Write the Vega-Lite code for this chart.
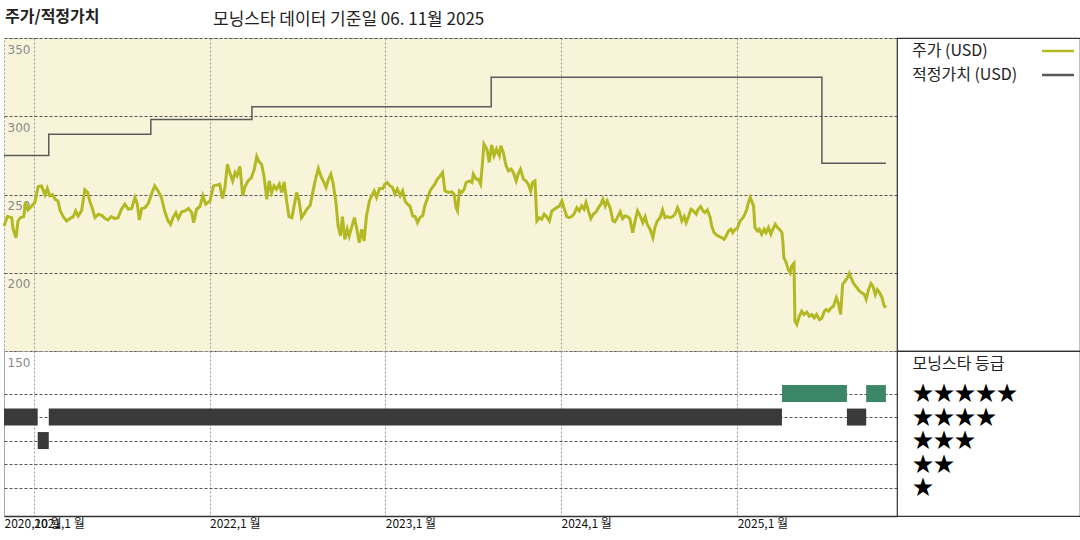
{
"$schema": "https://vega.github.io/schema/vega-lite/v6.json",
"padding": {"left": -3, "top": 8, "right": 0, "bottom": 0},
"background": "white",
"config": {"font": "Noto Sans CJK KR", "concat": {"spacing": 0}},
"columns": 2,
"spacing": 0,
"bounds": "flush",
"resolve": {"scale": {"x": "independent", "y": "independent", "color": "independent", "fill": "independent"}},
"datasets": {
"price": [
{"d":"2020-10-31","p":229.9},{"d":"2020-11-07","p":235.9},{"d":"2020-11-16","p":235.2},{"d":"2020-11-19","p":227.8},{"d":"2020-11-25","p":222.4},{"d":"2020-11-29","p":233.1},{"d":"2020-12-04","p":235.2},{"d":"2020-12-11","p":235.9},{"d":"2020-12-15","p":244.9},{"d":"2020-12-20","p":240.2},{"d":"2020-12-27","p":242.3},
{"d":"2021-01-03","p":244.9},{"d":"2021-01-10","p":255.1},{"d":"2021-01-17","p":255.5},{"d":"2021-01-24","p":249.8},{"d":"2021-01-29","p":253.8},{"d":"2021-02-03","p":249.2},{"d":"2021-02-09","p":249.8},{"d":"2021-02-14","p":247.0},{"d":"2021-02-20","p":245.9},{"d":"2021-02-25","p":239.5},{"d":"2021-03-03","p":235.9},{"d":"2021-03-10","p":233.1},{"d":"2021-03-17","p":234.6},{"d":"2021-03-24","p":235.9},{"d":"2021-03-29","p":239.5},{"d":"2021-04-03","p":236.3},{"d":"2021-04-10","p":239.5},{"d":"2021-04-17","p":253.0},{"d":"2021-04-23","p":251.3},{"d":"2021-04-27","p":245.9},{"d":"2021-05-03","p":240.6},{"d":"2021-05-08","p":235.2},{"d":"2021-05-15","p":237.4},{"d":"2021-05-22","p":236.7},{"d":"2021-05-29","p":234.6},{"d":"2021-06-04","p":233.7},{"d":"2021-06-11","p":235.9},{"d":"2021-06-18","p":234.6},{"d":"2021-06-25","p":235.2},{"d":"2021-07-02","p":240.6},{"d":"2021-07-09","p":243.8},{"d":"2021-07-16","p":240.6},{"d":"2021-07-23","p":241.0},{"d":"2021-07-30","p":248.1},{"d":"2021-08-04","p":243.8},{"d":"2021-08-08","p":233.7},{"d":"2021-08-13","p":241.0},{"d":"2021-08-20","p":241.6},{"d":"2021-08-27","p":244.4},{"d":"2021-09-03","p":250.8},{"d":"2021-09-09","p":255.5},{"d":"2021-09-16","p":252.3},{"d":"2021-09-23","p":248.1},{"d":"2021-09-30","p":238.9},{"d":"2021-10-07","p":233.1},{"d":"2021-10-12","p":231.0},{"d":"2021-10-17","p":235.2},{"d":"2021-10-23","p":238.4},{"d":"2021-10-28","p":234.6},{"d":"2021-11-04","p":238.9},{"d":"2021-11-11","p":239.5},{"d":"2021-11-18","p":241.0},{"d":"2021-11-25","p":238.4},{"d":"2021-11-29","p":232.0},{"d":"2021-12-05","p":240.6},{"d":"2021-12-12","p":242.3},{"d":"2021-12-18","p":249.2},{"d":"2021-12-24","p":243.8},
{"d":"2022-01-02","p":245.9},{"d":"2022-01-09","p":255.5},{"d":"2022-01-16","p":256.0},{"d":"2022-01-22","p":256.6},{"d":"2022-01-28","p":247.5},{"d":"2022-02-02","p":254.5},{"d":"2022-02-07","p":269.4},{"d":"2022-02-12","p":264.1},{"d":"2022-02-18","p":258.7},{"d":"2022-02-23","p":264.1},{"d":"2022-02-27","p":262.0},{"d":"2022-03-05","p":267.9},{"d":"2022-03-11","p":249.1},{"d":"2022-03-15","p":254.5},{"d":"2022-03-22","p":258.7},{"d":"2022-03-29","p":260.9},{"d":"2022-04-04","p":266.2},{"d":"2022-04-09","p":274.3},{"d":"2022-04-14","p":270.9},{"d":"2022-04-19","p":269.4},{"d":"2022-04-24","p":261.9},{"d":"2022-04-30","p":247.0},{"d":"2022-05-05","p":258.7},{"d":"2022-05-10","p":251.3},{"d":"2022-05-15","p":255.5},{"d":"2022-05-20","p":253.4},{"d":"2022-05-26","p":256.6},{"d":"2022-05-31","p":251.3},{"d":"2022-06-05","p":258.1},{"d":"2022-06-10","p":245.9},{"d":"2022-06-15","p":235.9},{"d":"2022-06-21","p":235.2},{"d":"2022-06-25","p":241.6},{"d":"2022-07-01","p":251.3},{"d":"2022-07-06","p":245.9},{"d":"2022-07-11","p":235.2},{"d":"2022-07-16","p":237.4},{"d":"2022-07-22","p":240.6},{"d":"2022-07-29","p":243.1},{"d":"2022-08-04","p":252.3},{"d":"2022-08-10","p":260.9},{"d":"2022-08-15","p":266.6},{"d":"2022-08-20","p":261.9},{"d":"2022-08-25","p":258.7},{"d":"2022-08-31","p":254.5},{"d":"2022-09-05","p":259.8},{"d":"2022-09-10","p":263.0},{"d":"2022-09-15","p":256.6},{"d":"2022-09-21","p":243.8},{"d":"2022-09-25","p":229.9},{"d":"2022-09-30","p":223.5},{"d":"2022-10-04","p":235.9},{"d":"2022-10-09","p":221.3},{"d":"2022-10-14","p":227.8},{"d":"2022-10-18","p":223.5},{"d":"2022-10-23","p":228.8},{"d":"2022-10-29","p":235.2},{"d":"2022-11-03","p":227.8},{"d":"2022-11-08","p":219.2},{"d":"2022-11-13","p":227.8},{"d":"2022-11-18","p":220.3},{"d":"2022-11-23","p":236.3},{"d":"2022-11-29","p":245.9},{"d":"2022-12-04","p":249.1},{"d":"2022-12-09","p":252.3},{"d":"2022-12-14","p":248.1},{"d":"2022-12-20","p":253.8},{"d":"2022-12-27","p":253.8},{"d":"2022-12-31","p":256.6},
{"d":"2023-01-05","p":257.7},{"d":"2023-01-11","p":255.5},{"d":"2023-01-16","p":254.5},{"d":"2023-01-21","p":250.2},{"d":"2023-01-26","p":253.4},{"d":"2023-02-01","p":249.1},{"d":"2023-02-06","p":252.3},{"d":"2023-02-11","p":245.9},{"d":"2023-02-16","p":243.8},{"d":"2023-02-21","p":242.7},{"d":"2023-02-27","p":236.3},{"d":"2023-03-04","p":235.9},{"d":"2023-03-09","p":232.0},{"d":"2023-03-14","p":235.2},{"d":"2023-03-20","p":236.7},{"d":"2023-03-24","p":242.7},{"d":"2023-03-29","p":247.0},{"d":"2023-04-04","p":252.3},{"d":"2023-04-09","p":254.5},{"d":"2023-04-14","p":256.6},{"d":"2023-04-19","p":259.8},{"d":"2023-04-25","p":261.9},{"d":"2023-04-30","p":264.1},{"d":"2023-05-05","p":252.3},{"d":"2023-05-12","p":251.3},{"d":"2023-05-19","p":251.7},{"d":"2023-05-24","p":250.2},{"d":"2023-05-28","p":241.6},{"d":"2023-05-31","p":239.5},{"d":"2023-06-04","p":252.3},{"d":"2023-06-09","p":251.3},{"d":"2023-06-14","p":253.4},{"d":"2023-06-18","p":257.7},{"d":"2023-06-25","p":258.7},{"d":"2023-06-30","p":257.7},{"d":"2023-07-03","p":263.0},{"d":"2023-07-09","p":259.8},{"d":"2023-07-13","p":259.8},{"d":"2023-07-18","p":256.6},{"d":"2023-07-22","p":270.5},{"d":"2023-07-25","p":282.2},{"d":"2023-07-31","p":279.0},{"d":"2023-08-05","p":270.5},{"d":"2023-08-10","p":281.6},{"d":"2023-08-15","p":274.8},{"d":"2023-08-20","p":279.0},{"d":"2023-08-26","p":274.8},{"d":"2023-08-29","p":281.2},{"d":"2023-09-03","p":276.9},{"d":"2023-09-09","p":268.4},{"d":"2023-09-14","p":265.1},{"d":"2023-09-19","p":266.2},{"d":"2023-09-24","p":264.1},{"d":"2023-09-30","p":258.7},{"d":"2023-10-04","p":263.0},{"d":"2023-10-09","p":266.2},{"d":"2023-10-15","p":259.8},{"d":"2023-10-20","p":258.7},{"d":"2023-10-25","p":256.6},{"d":"2023-10-30","p":252.3},{"d":"2023-11-03","p":257.7},{"d":"2023-11-08","p":258.7},{"d":"2023-11-12","p":233.1},{"d":"2023-11-17","p":235.2},{"d":"2023-11-22","p":234.2},{"d":"2023-11-27","p":237.4},{"d":"2023-12-02","p":235.9},{"d":"2023-12-08","p":233.1},{"d":"2023-12-13","p":239.5},{"d":"2023-12-18","p":240.6},{"d":"2023-12-23","p":241.6},{"d":"2023-12-29","p":242.7},
{"d":"2024-01-03","p":245.9},{"d":"2024-01-07","p":241.6},{"d":"2024-01-13","p":235.9},{"d":"2024-01-18","p":235.2},{"d":"2024-01-23","p":235.9},{"d":"2024-01-28","p":237.4},{"d":"2024-02-03","p":241.6},{"d":"2024-02-08","p":239.5},{"d":"2024-02-13","p":242.7},{"d":"2024-02-18","p":240.6},{"d":"2024-02-22","p":244.9},{"d":"2024-02-27","p":239.5},{"d":"2024-03-03","p":234.6},{"d":"2024-03-08","p":237.4},{"d":"2024-03-14","p":238.9},{"d":"2024-03-19","p":241.6},{"d":"2024-03-24","p":243.8},{"d":"2024-03-28","p":247.0},{"d":"2024-04-02","p":242.7},{"d":"2024-04-06","p":245.9},{"d":"2024-04-12","p":241.6},{"d":"2024-04-18","p":233.1},{"d":"2024-04-22","p":232.5},{"d":"2024-04-27","p":235.2},{"d":"2024-05-03","p":238.9},{"d":"2024-05-08","p":234.6},{"d":"2024-05-13","p":236.3},{"d":"2024-05-18","p":235.9},{"d":"2024-05-23","p":234.6},{"d":"2024-05-29","p":225.6},{"d":"2024-06-03","p":233.1},{"d":"2024-06-08","p":239.5},{"d":"2024-06-13","p":236.7},{"d":"2024-06-19","p":232.0},{"d":"2024-06-24","p":235.9},{"d":"2024-06-28","p":231.0},{"d":"2024-07-04","p":227.8},{"d":"2024-07-10","p":222.4},{"d":"2024-07-14","p":228.8},{"d":"2024-07-19","p":233.1},{"d":"2024-07-25","p":235.2},{"d":"2024-07-30","p":240.2},{"d":"2024-08-04","p":235.2},{"d":"2024-08-09","p":235.9},{"d":"2024-08-15","p":235.2},{"d":"2024-08-20","p":235.9},{"d":"2024-08-25","p":237.4},{"d":"2024-08-30","p":241.6},{"d":"2024-09-03","p":238.9},{"d":"2024-09-08","p":233.1},{"d":"2024-09-13","p":235.9},{"d":"2024-09-17","p":232.0},{"d":"2024-09-22","p":235.9},{"d":"2024-09-27","p":240.6},{"d":"2024-10-02","p":239.5},{"d":"2024-10-08","p":237.4},{"d":"2024-10-12","p":240.6},{"d":"2024-10-17","p":242.3},{"d":"2024-10-22","p":239.5},{"d":"2024-10-26","p":238.4},{"d":"2024-10-31","p":240.2},{"d":"2024-11-06","p":235.2},{"d":"2024-11-09","p":229.9},{"d":"2024-11-14","p":225.6},{"d":"2024-11-20","p":223.9},{"d":"2024-11-25","p":223.1},{"d":"2024-11-30","p":222.4},{"d":"2024-12-05","p":221.3},{"d":"2024-12-09","p":223.5},{"d":"2024-12-14","p":226.7},{"d":"2024-12-19","p":227.8},{"d":"2024-12-23","p":225.6},{"d":"2024-12-28","p":227.8},
{"d":"2025-01-01","p":228.2},{"d":"2025-01-07","p":233.1},{"d":"2025-01-13","p":235.2},{"d":"2025-01-17","p":237.4},{"d":"2025-01-21","p":240.6},{"d":"2025-01-24","p":244.4},{"d":"2025-01-28","p":248.1},{"d":"2025-01-31","p":245.9},{"d":"2025-02-04","p":242.7},{"d":"2025-02-07","p":228.8},{"d":"2025-02-12","p":226.7},{"d":"2025-02-16","p":227.8},{"d":"2025-02-21","p":224.6},{"d":"2025-02-26","p":227.8},{"d":"2025-03-02","p":225.6},{"d":"2025-03-07","p":228.8},{"d":"2025-03-12","p":224.6},{"d":"2025-03-16","p":227.8},{"d":"2025-03-21","p":231.0},{"d":"2025-03-26","p":228.8},{"d":"2025-03-30","p":227.8},{"d":"2025-04-04","p":225.6},{"d":"2025-04-06","p":219.2},{"d":"2025-04-08","p":209.6},{"d":"2025-04-13","p":206.4},{"d":"2025-04-17","p":202.1},{"d":"2025-04-21","p":199.9},{"d":"2025-04-24","p":204.2},{"d":"2025-04-29","p":206.0},{"d":"2025-05-01","p":169.0},{"d":"2025-05-05","p":166.9},{"d":"2025-05-10","p":172.2},{"d":"2025-05-15","p":175.4},{"d":"2025-05-20","p":173.3},{"d":"2025-05-26","p":174.8},{"d":"2025-05-31","p":172.2},{"d":"2025-06-05","p":173.3},{"d":"2025-06-10","p":171.1},{"d":"2025-06-15","p":173.3},{"d":"2025-06-21","p":170.1},{"d":"2025-06-26","p":171.1},{"d":"2025-07-01","p":175.4},{"d":"2025-07-05","p":176.5},{"d":"2025-07-10","p":175.4},{"d":"2025-07-15","p":177.6},{"d":"2025-07-20","p":178.6},{"d":"2025-07-26","p":184.0},{"d":"2025-07-30","p":180.7},{"d":"2025-08-04","p":173.3},{"d":"2025-08-08","p":192.5},{"d":"2025-08-13","p":194.6},{"d":"2025-08-18","p":196.8},{"d":"2025-08-22","p":199.6},{"d":"2025-08-27","p":195.7},{"d":"2025-09-01","p":192.5},{"d":"2025-09-07","p":190.4},{"d":"2025-09-12","p":188.2},{"d":"2025-09-17","p":187.2},{"d":"2025-09-22","p":186.1},{"d":"2025-09-26","p":182.9},{"d":"2025-10-01","p":189.3},{"d":"2025-10-06","p":193.1},{"d":"2025-10-10","p":191.4},{"d":"2025-10-15","p":186.1},{"d":"2025-10-19","p":189.3},{"d":"2025-10-24","p":187.2},{"d":"2025-10-29","p":184.0},{"d":"2025-11-02","p":179.0},{"d":"2025-11-06","p":177.6}
],
"fv": [
{"d":"2020-10-31","v":275},{"d":"2021-02-01","v":288.5},{"d":"2021-09-01","v":298},{"d":"2022-03-30","v":306},{"d":"2023-08-09","v":325},{"d":"2025-06-26","v":270},{"d":"2025-11-06","v":270}
],
"rating": [
{"s":"2020-10-31","e":"2021-01-09","r":4},{"s":"2021-01-09","e":"2021-02-01","r":3},{"s":"2021-02-01","e":"2025-04-04","r":4},{"s":"2025-04-04","e":"2025-08-17","r":5},{"s":"2025-08-17","e":"2025-09-26","r":4},{"s":"2025-09-26","e":"2025-11-06","r":5}
]
},
"concat": [
{
"width": 893, "height": 313,
"title": {"text": "주가/적정가치", "anchor": "start", "frame": "group", "dx": 1, "fontSize": 16, "fontWeight": "bold", "color": "#222222", "baseline": "middle", "offset": 5},
"view": {"fill": "#f8f4da", "stroke": "#9a9a9a", "strokeDash": [2, 2]},
"layer": [
{
"data": {"name": "fv"},
"mark": {"type": "line", "interpolate": "step-after", "strokeWidth": 1.5},
"encoding": {
"x": {"field": "d", "type": "temporal", "scale": {"type": "utc", "nice": false, "domain": [{"year": 2020, "month": 10, "date": 31, "utc": true}, {"year": 2025, "month": 11, "date": 29, "utc": true}]},
"axis": {"values": [{"year": 2021, "month": 1, "date": 1, "utc": true}, {"year": 2022, "month": 1, "date": 1, "utc": true}, {"year": 2023, "month": 1, "date": 1, "utc": true}, {"year": 2024, "month": 1, "date": 1, "utc": true}, {"year": 2025, "month": 1, "date": 1, "utc": true}], "grid": true, "gridColor": "#9a9a9a", "gridDash": [2, 2], "labels": false, "ticks": false, "domain": false, "title": null}},
"y": {"field": "v", "type": "quantitative", "scale": {"domain": [150, 350], "nice": false},
"axis": {"values": [150, 200, 250, 300, 350], "grid": true, "gridColor": "#555555", "gridDash": [3, 2], "domain": false, "ticks": false, "labelAlign": "left", "labelPadding": -3, "labelBaseline": "middle", "labelOffset": 11, "labelColor": "#8a8a8a", "labelFontSize": 12, "labelFont": "DejaVu Sans", "labelFlush": false, "labelOverlap": false, "title": null}},
"color": {"datum": "적정가치 (USD)", "scale": {"domain": ["주가 (USD)", "적정가치 (USD)"], "range": ["#b3b922", "#5a5a5a"]},
"legend": {"orient": "none", "legendX": 888, "legendY": 5, "title": null, "direction": "vertical", "symbolType": "M 71 0 L 87 0", "symbolSize": 16, "symbolStrokeWidth": 2.5, "labelFontSize": 16, "labelColor": "#222222", "rowPadding": 8, "padding": 0}}
}
},
{
"data": {"name": "price"},
"mark": {"type": "line", "strokeWidth": 3},
"encoding": {
"x": {"field": "d", "type": "temporal"},
"y": {"field": "p", "type": "quantitative"},
"color": {"datum": "주가 (USD)"}
}
}
]
},
{
"width": 183, "height": 313,
"title": {"text": "모닝스타 데이터 기준일 06. 11월 2025", "anchor": "start", "frame": "group", "dx": -684, "fontSize": 17, "fontWeight": "normal", "color": "#222222", "baseline": "middle", "offset": 1},
"data": {"values": [{}]},
"mark": {"type": "text", "text": ""},
"view": {"stroke": "#333333", "strokeWidth": 1.2}
},
{
"width": 893, "height": 165,
"data": {"name": "rating"},
"view": {"stroke": "#9a9a9a", "strokeDash": [2, 2]},
"mark": {"type": "bar", "height": 17},
"encoding": {
"x": {"field": "s", "type": "temporal", "scale": {"type": "utc", "nice": false, "domain": [{"year": 2020, "month": 10, "date": 31, "utc": true}, {"year": 2025, "month": 11, "date": 29, "utc": true}]},
"axis": {"values": [{"year": 2020, "month": 10, "date": 31, "utc": true}, {"year": 2021, "month": 1, "date": 1, "utc": true}, {"year": 2022, "month": 1, "date": 1, "utc": true}, {"year": 2023, "month": 1, "date": 1, "utc": true}, {"year": 2024, "month": 1, "date": 1, "utc": true}, {"year": 2025, "month": 1, "date": 1, "utc": true}], "grid": true, "gridColor": "#9a9a9a", "gridDash": [2, 2], "ticks": false, "domain": true, "domainColor": "#333333", "domainWidth": 1.5, "labelExpr": "utcFormat(datum.value, '%Y') + ',' + utcFormat(datum.value, '%-m') + ' 월'", "labelAlign": "left", "labelBaseline": "top", "labelPadding": 2, "labelFontSize": 12, "labelColor": "#111111", "labelFlush": false, "labelOverlap": false, "title": null}},
"x2": {"field": "e"},
"y": {"field": "r", "type": "quantitative", "scale": {"domain": [0, 6.6], "nice": false},
"axis": {"orient": "right", "values": [1, 2, 3, 4, 5], "grid": true, "gridColor": "#555555", "gridDash": [3, 2], "domain": false, "ticks": false, "labelExpr": "datum.value == 5 ? '★★★★★' : datum.value == 4 ? '★★★★' : datum.value == 3 ? '★★★' : datum.value == 2 ? '★★' : '★'", "labelAlign": "left", "labelBaseline": "middle", "labelPadding": 15, "labelFontSize": 21, "labelColor": "#000000", "title": "모닝스타 등급", "titleAngle": 0, "titleX": 15, "titleY": 12, "titleAlign": "left", "titleBaseline": "middle", "titleFontSize": 16, "titleFontWeight": "normal", "titleColor": "#222222"}},
"fill": {"field": "r", "type": "nominal", "scale": {"domain": [3, 4, 5], "range": ["#3a3a3a", "#3a3a3a", "#3b8767"]}, "legend": null}
}
},
{
"width": 183, "height": 165,
"data": {"values": [{}]},
"mark": {"type": "text", "text": ""},
"view": {"stroke": "#333333", "strokeWidth": 1.2}
}
]
}
